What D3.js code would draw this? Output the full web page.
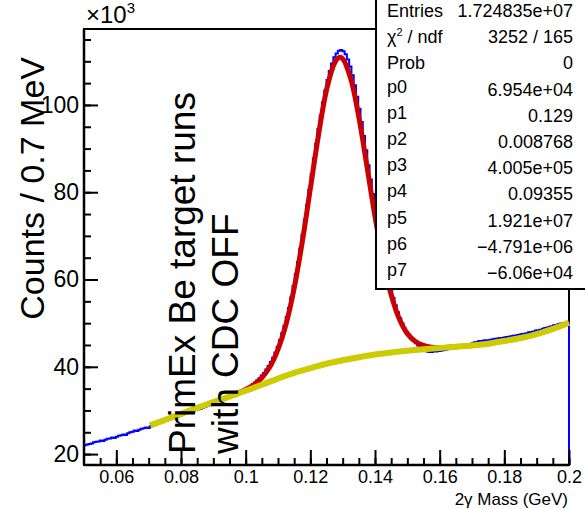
<!DOCTYPE html>
<html>
<head>
<meta charset="utf-8">
<script src="https://cdn.jsdelivr.net/npm/d3@7"></script>
<style>
  html, body { margin: 0; background: #fff; overflow: hidden; }
  svg { display: block; overflow: hidden; font-family: "Liberation Sans", Arial, Helvetica, sans-serif; }
</style>
</head>
<body>
<svg width="585" height="509"></svg>
<script>
// histogram: counts per 0.7 MeV bin (in units of 10^3), from 0.05 to 0.2 GeV
const histRange = [0.05, 0.2];
const counts = [
  22.0,22.2,22.3,22.4,22.7,22.8,22.9,23.1,23.0,23.3,
  23.5,23.6,23.8,23.7,24.0,24.2,24.3,24.5,24.4,24.8,
  25.0,25.1,25.4,25.3,25.6,25.8,25.9,26.1,26.0,26.4,
  26.6,26.9,27.1,27.3,27.5,27.7,27.9,28.1,28.3,28.5,
  28.7,28.9,29.0,29.3,29.4,29.6,29.8,29.8,29.9,30.1,
  30.3,30.4,30.6,30.8,31.1,31.2,31.5,31.9,32.1,32.3,
  32.4,32.7,32.8,33.1,33.2,33.5,33.6,33.9,34.1,34.3,34.5,34.8,
  35.3,35.6,36.0,36.4,36.9,37.4,38.0,38.6,39.4,40.2,
  41.1,42.1,43.3,44.6,46.1,47.7,49.4,51.4,53.5,55.9,
  58.5,61.2,64.0,67.1,70.3,73.7,77.1,80.6,84.1,87.7,
  91.1,94.5,97.6,100.6,103.3,105.7,107.8,109.5,110.9,111.8,
  112.4,112.6,112.3,111.6,110.4,108.8,106.8,104.5,101.9,99.1,
  96.1,92.9,89.6,86.2,82.9,79.6,76.4,73.2,70.2,67.4,
  64.7,62.2,59.9,57.8,55.8,54.1,52.5,51.1,49.9,48.8,
  47.9,47.1,46.4,45.9,45.4,44.9,44.6,44.3,44.0,
  43.5,43.4,43.4,43.5,43.5,43.6,43.7,43.8,43.9,
  44.0,44.1,44.3,44.4,44.5,44.7,44.8,44.9,45.0,45.1,
  45.2,45.4,45.6,45.7,45.9,45.9,46.0,46.1,46.1,46.2,
  46.3,46.4,46.5,46.6,46.6,46.7,46.8,46.9,47.0,47.1,
  47.2,47.3,47.4,47.5,47.6,47.7,47.9,48.0,48.1,48.3,
  48.4,48.5,48.7,48.9,49.0,49.2,49.3,49.5,49.6,49.8,
  49.9,50.0,50.1,50.2
];

// total fit (red)
const fitX = [0.0705,0.075,0.08,0.085,0.09,0.095,0.1,0.1025,0.105,0.1075,0.11,0.1125,0.115,0.1175,0.12,0.1225,
  0.125,0.1275,0.129,0.13,0.1325,0.135,0.1375,0.14,0.1425,0.145,0.1475,0.15,0.1525,0.155,0.1575,0.16,
  0.165,0.17,0.175,0.18,0.185,0.19,0.195,0.2];
const fitY = [26.6,27.8,29.2,30.6,31.9,33.2,34.8,35.9,37.5,40.0,44.0,49.8,58.0,68.6,80.8,93.0,
  103.4,109.6,110.9,110.6,106.0,97.2,86.0,74.4,64.4,56.5,51.0,47.6,45.8,44.9,44.5,44.4,
  44.6,44.9,45.3,45.9,46.6,47.5,48.7,50.1];

// background part of the fit (yellow)
const bgX = [0.0705,0.075,0.08,0.085,0.09,0.095,0.1,0.105,0.11,0.115,0.12,0.125,0.13,0.135,0.14,
  0.145,0.15,0.155,0.16,0.165,0.17,0.175,0.18,0.185,0.19,0.195,0.2];
const bgY = [26.6,27.8,29.2,30.6,31.9,33.2,34.5,35.9,37.3,38.6,39.7,40.7,41.5,42.2,42.8,
  43.3,43.7,44.0,44.3,44.6,44.9,45.3,45.9,46.6,47.5,48.7,50.1];

const xMajor = [0.06, 0.08, 0.1, 0.12, 0.14, 0.16, 0.18, 0.2];
const yMajor = [20, 40, 60, 80, 100];

const statLabels = ["Entries", "χ2 / ndf", "Prob", "p0", "p1", "p2", "p3", "p4", "p5", "p6", "p7"];
const statValues = ["1.724835e+07", "3252 / 165", "0", "6.954e+04", "0.129", "0.008768",
  "4.005e+05", "0.09355", "1.921e+07", "\u22124.791e+06", "\u22126.06e+04"];

const noteLines = ["PrimEx Be target runs", "with CDC OFF"];

// frame
const L = 84, R = 569, T = 29, B = 465;

const svg = d3.select("svg");

const x = d3.scaleLinear().domain(histRange).range([L, R]);
const y = d3.scaleLinear().domain([17.5, 117.4]).range([B, T]);

svg.append("defs").append("clipPath").attr("id", "clip")
  .append("rect").attr("x", L).attr("y", T).attr("width", R - L + 2).attr("height", B - T);

svg.append("rect")
  .attr("x", L).attr("y", T).attr("width", R - L).attr("height", B - T)
  .attr("fill", "none").attr("stroke", "#000").attr("stroke-width", 2);

const plot = svg.append("g").attr("clip-path", "url(#clip)");

// histogram outline
const binW = (histRange[1] - histRange[0]) / counts.length;
const steps = counts.map((c, i) => [histRange[0] + i * binW, c]);
steps.push([histRange[1], counts[counts.length - 1]]);
steps.push([histRange[1], 0]);

plot.append("path")
  .attr("d", d3.line().x(d => x(d[0])).y(d => y(d[1])).curve(d3.curveStepAfter)(steps))
  .attr("fill", "none").attr("stroke", "#0000ff").attr("stroke-width", 2);

const smooth = d3.line().x(d => x(d[0])).y(d => y(d[1])).curve(d3.curveCatmullRom.alpha(0.5));

plot.append("path")
  .attr("d", smooth(fitX.map((v, i) => [v, fitY[i]])))
  .attr("fill", "none").attr("stroke", "#cc0000").attr("stroke-width", 5);

plot.append("path")
  .attr("d", smooth(bgX.map((v, i) => [v, bgY[i]])))
  .attr("fill", "none").attr("stroke", "#cccc00").attr("stroke-width", 6);

// axes
const xAxis = svg.append("g").attr("transform", `translate(0,${B})`);
xAxis.call(d3.axisBottom(x).tickValues(d3.range(0.055, 0.2001, 0.005)).tickSize(-7).tickFormat(""));
xAxis.select(".domain").remove();
const xAxisMaj = svg.append("g").attr("transform", `translate(0,${B})`)
  .call(d3.axisBottom(x).tickValues(xMajor).tickSize(-15).tickPadding(5)
    .tickFormat(d => String(+d.toFixed(2))));
xAxisMaj.select(".domain").remove();
xAxisMaj.selectAll("text").attr("font-size", 18).attr("font-family", null).attr("fill", "#000");

const yAxis = svg.append("g").attr("transform", `translate(${L},0)`);
yAxis.call(d3.axisLeft(y).tickValues(d3.range(20, 117, 5)).tickSize(-7).tickFormat(""));
yAxis.select(".domain").remove();
const yAxisMaj = svg.append("g").attr("transform", `translate(${L},0)`)
  .call(d3.axisLeft(y).tickValues(yMajor).tickSize(-14).tickPadding(5));
yAxisMaj.select(".domain").remove();
yAxisMaj.selectAll("text").attr("font-size", 23).attr("font-family", null).attr("fill", "#000");
svg.selectAll(".tick line").attr("stroke-width", 2).attr("stroke", "#000");

svg.append("line").attr("x1", L).attr("x2", L).attr("y1", T).attr("y2", B)
  .attr("stroke", "#000").attr("stroke-width", 2.5);
svg.append("line").attr("x1", L).attr("x2", R).attr("y1", B).attr("y2", B)
  .attr("stroke", "#000").attr("stroke-width", 2.5);

// exponent label
const ex = svg.append("text").attr("x", 86).attr("y", 23).attr("font-size", 24).text("\u00d710");
ex.append("tspan").attr("dy", -10).attr("font-size", 15).text("3");

// axis titles
svg.append("text")
  .attr("transform", "translate(44,57) rotate(-90)")
  .attr("text-anchor", "end").attr("font-size", 34)
  .text("Counts / 0.7 MeV");

svg.append("text")
  .attr("x", 568).attr("y", 505).attr("text-anchor", "end").attr("font-size", 17)
  .text("2\u03b3 Mass (GeV)");

// note
noteLines.forEach((t, i) => {
  svg.append("text")
    .attr("transform", `translate(${195 + i * 43},454) rotate(-90)`)
    .attr("font-size", 37)
    .text(t);
});

// stats box
svg.append("rect").attr("x", 376).attr("y", -2).attr("width", 212).attr("height", 291)
  .attr("fill", "#fff").attr("stroke", "#000").attr("stroke-width", 2);

const stats = svg.append("g").attr("font-size", 18);
statLabels.forEach((s, i) => {
  const yy = 17 + i * 26.2 - (i >= 3 ? 3 : 0);
  const t = stats.append("text").attr("x", 387).attr("y", yy);
  if (s.startsWith("χ2")) {
    t.append("tspan").text("χ");
    t.append("tspan").attr("dy", -7).attr("font-size", 11).text("2");
    t.append("tspan").attr("dy", 7).text(" / ndf");
  } else {
    t.text(s);
  }
});
statValues.forEach((s, i) => {
  stats.append("text").attr("x", 573).attr("y", 17 + i * 26.2)
    .attr("text-anchor", "end").text(s);
});
</script>
</body>
</html>
